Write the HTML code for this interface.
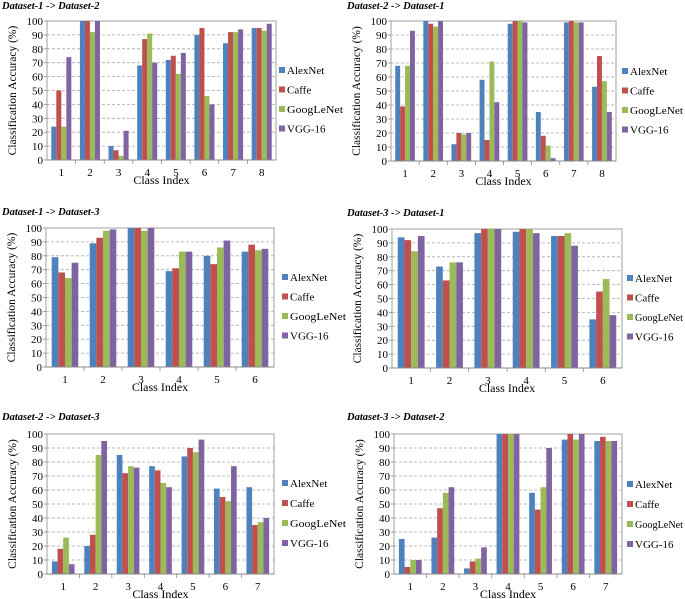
<!DOCTYPE html>
<html><head><meta charset="utf-8">
<style>
html,body{margin:0;padding:0;background:#fff;}
svg{display:block;}
svg text{font-family:"Liberation Serif","Times New Roman",serif;}
</style></head>
<body>
<svg id="chart" width="685" height="599" viewBox="0 0 685 599" xmlns="http://www.w3.org/2000/svg"></svg>
<script>
const seriesNames = ["AlexNet","Caffe","GoogLeNet","VGG-16"];
const seriesColors = ["#4F81BD","#C0504D","#9BBB59","#8064A2"];
const yTicks = [0,10,20,30,40,50,60,70,80,90,100];

const p1Title = "Dataset-1 -> Dataset-2";
const p1Alex = [24,100,10,68,72,90,84,95];
const p1Caffe = [50,100,7,87,75,95,92,95];
const p1Goog = [24,92,3,91,62,46,92,93];
const p1Vgg = [74,100,21,70,77,40,94,98];

const p2Title = "Dataset-2 -> Dataset-1";
const p2Alex = [68,100,12,58,98,35,99,53];
const p2Caffe = [39,98,20,15,100,18,100,75];
const p2Goog = [68,96,19,71,100,11,99,57];
const p2Vgg = [93,100,20,42,99,2,99,35];

const p3Title = "Dataset-1 -> Dataset-3";
const p3Alex = [79,89,100,69,80,83];
const p3Caffe = [68,93,100,71,74,88];
const p3Goog = [64,98,98,83,86,84];
const p3Vgg = [75,99,100,83,91,85];

const p4Title = "Dataset-3 -> Dataset-1";
const p4Alex = [94,73,97,98,95,35];
const p4Caffe = [92,63,100,100,95,55];
const p4Goog = [84,76,100,100,97,64];
const p4Vgg = [95,76,100,97,88,38];

const p5Title = "Dataset-2 -> Dataset-3";
const p5Alex = [9,20,85,77,84,61,62];
const p5Caffe = [18,28,72,74,90,55,35];
const p5Goog = [26,85,77,65,87,52,37];
const p5Vgg = [7,95,76,62,96,77,40];

const p6Title = "Dataset-3 -> Dataset-2";
const p6Alex = [25,26,4,100,58,96,95];
const p6Caffe = [5,47,9,100,46,100,98];
const p6Goog = [10,58,11,100,62,96,95];
const p6Vgg = [10,62,19,100,90,100,95];

const panels = [
 {title:p1Title, series:[p1Alex,p1Caffe,p1Goog,p1Vgg], x0:47,x1:276,y0:21,y1:160,tx:2,ty:9,lx:279,ly:74,ls:19.5},
 {title:p2Title, series:[p2Alex,p2Caffe,p2Goog,p2Vgg], x0:391,x1:616,y0:21,y1:161,tx:347,ty:9,lx:622,ly:75,ls:19.5},
 {title:p3Title, series:[p3Alex,p3Caffe,p3Goog,p3Vgg], x0:46,x1:274,y0:228,y1:367,tx:2,ty:215,lx:282,ly:281,ls:19.5},
 {title:p4Title, series:[p4Alex,p4Caffe,p4Goog,p4Vgg], x0:392,x1:622,y0:229,y1:368,tx:347,ty:216,lx:627,ly:282,ls:19.5},
 {title:p5Title, series:[p5Alex,p5Caffe,p5Goog,p5Vgg], x0:47,x1:274,y0:434,y1:574,tx:2,ty:420,lx:282,ly:487,ls:20},
 {title:p6Title, series:[p6Alex,p6Caffe,p6Goog,p6Vgg], x0:394,x1:622,y0:434,y1:574,tx:347,ty:420,lx:627,ly:488,ls:20}
];

const svg = document.getElementById('chart');
const NS = "http://www.w3.org/2000/svg";
const FONT = '"Liberation Serif", "Times New Roman", serif';
function mk(tag, attrs, parent){
  const e = document.createElementNS(NS, tag);
  for (const k in attrs) e.setAttribute(k, attrs[k]);
  if (tag === 'text') e.setAttribute('font-family', FONT);
  (parent||svg).appendChild(e);
  return e;
}

panels.forEach((p, pi) => {
  const g = mk('g', {});
  
  
  const n = p.series[0].length;
  const yScale = v => p.y1 - (v/100)*(p.y1-p.y0);
  const groupW = (p.x1-p.x0)/n;
  const xGroup = i => p.x0 + i*groupW;

  const t = mk('text', {x:p.tx, y:p.ty, 'font-size':10.5, 'font-weight':'bold', 'font-style':'italic', fill:'#000'}, g);
  t.textContent = p.title;
  
  

  const bg = mk('rect', {x:p.x0, y:p.y0, width:p.x1-p.x0, height:p.y1-p.y0, fill:'#fff', stroke:'#a0a0a0', 'stroke-width':1}, g);
  
  

  yTicks.forEach(v => {
    const y = yScale(v);
    if (v>0 && v<100) {
      const gl = mk('line', {x1:p.x0, x2:p.x1, y1:y, y2:y, stroke:'#a8a8a8', 'stroke-width':0.8, 'stroke-dasharray':'3,2'}, g);
      
      
    }
    mk('line', {x1:p.x0-3, x2:p.x0, y1:y, y2:y, stroke:'#888', 'stroke-width':0.8}, g);
    const tl = mk('text', {x:p.x0-4, y:y+4, 'font-size':11, 'text-anchor':'end', fill:'#000'}, g);
    tl.textContent = v;
    
    
  });

  for (let i=0;i<n;i++){
    const gx = xGroup(i);
    if (i>0) mk('line', {x1:gx, x2:gx, y1:p.y1, y2:p.y1+4, stroke:'#888', 'stroke-width':0.8}, g);
    const bw = groupW*0.175;
    const start = gx + groupW*0.15;
    p.series.forEach((arr, si) => {
      const v = arr[i];
      const r = mk('rect', {x:start+si*bw, y:yScale(v), width:bw, height:p.y1-yScale(v), fill:seriesColors[si]}, g);
      
      
    });
    const xl = mk('text', {x:gx+groupW/2, y:p.y1+16, 'font-size':11, 'text-anchor':'middle', fill:'#000'}, g);
    xl.textContent = i+1;
    
    
  }
  mk('line', {x1:p.x0, x2:p.x1, y1:p.y1, y2:p.y1, stroke:'#888', 'stroke-width':1}, g);

  const xt = mk('text', {x:(p.x0+p.x1)/2, y:p.y1+24, 'font-size':12, 'text-anchor':'middle', fill:'#000'}, g);
  xt.textContent = 'Class Index';
  
  

  const cy = (p.y0+p.y1)/2;
  const cx = p.x0-31;
  const yt = mk('text', {x:cx, y:cy, 'font-size':11.5, 'text-anchor':'middle', transform:'rotate(-90 '+cx+' '+cy+')', fill:'#000'}, g);
  yt.textContent = 'Classification Accuracy (%)';
  
  

  seriesNames.forEach((nm, si) => {
    const ly = p.ly + si*p.ls;
    const le = mk('g', {}, g);
    
    
    mk('rect', {x:p.lx, y:ly-7, width:6, height:6, fill:seriesColors[si]}, le);
    const attrs = {x:p.lx+8, y:ly, 'font-size':11, fill:'#000'};
    if (nm === 'GoogLeNet') { attrs.textLength = Math.min(56, 683-(p.lx+8)); attrs.lengthAdjust = 'spacingAndGlyphs'; }
    const lt = mk('text', attrs, le);
    lt.textContent = nm;
  });
});
</script>
</body></html>
